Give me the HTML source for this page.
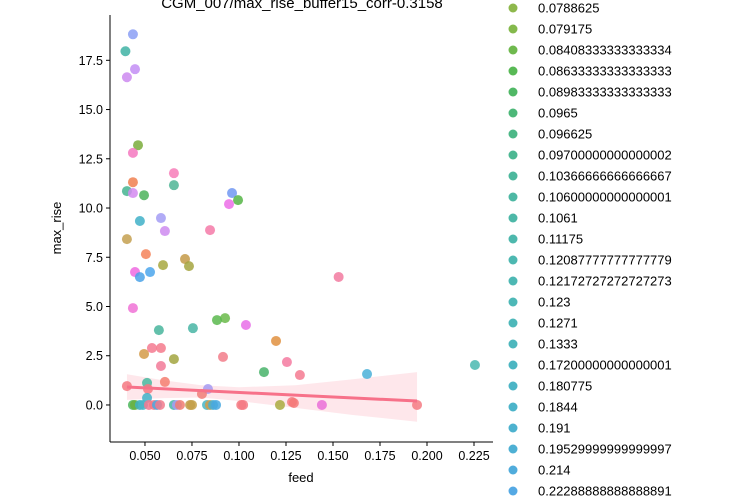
<!DOCTYPE html>
<html><head><meta charset="utf-8">
<style>
html,body{margin:0;padding:0;background:#fff;}
svg{display:block;font-family:"Liberation Sans","DejaVu Sans",sans-serif;}
</style></head>
<body>
<svg id="chart" width="729" height="500" viewBox="0 0 729 500">
<text x="302" y="8" text-anchor="middle" font-size="15" fill="#000">CGM_007/max_rise_buffer15_corr-0.3158</text>
<g id="band"></g>
<g id="points"></g>
<g id="reg"></g>
<g id="axes"></g>
<g id="legend"></g>
<text x="301" y="482" text-anchor="middle" font-size="13">feed</text>
<text x="61" y="228" text-anchor="middle" font-size="13" transform="rotate(-90 61 228)">max_rise</text>
</svg>
<script>
const feedVals=[0.0436,0.0396,0.0447,0.0404,0.0463,0.0436,0.0654,0.0436,0.0654,0.0404,0.0436,0.0495,0.0963,0.0995,0.0947,0.0473,0.0585,0.0606,0.0846,0.0404,
0.0505,0.0713,0.0596,0.0734,0.0447,0.0527,0.0473,0.0436,0.0926,0.0883,0.1037,0.0574,0.0755,0.1197,0.0495,0.0537,0.0585,0.0654,0.0915,0.1255,
0.1133,0.1324,0.0585,0.0606,0.0404,0.0511,0.0516,0.0511,0.0835,0.0803,0.1282,0.1292,0.1218,0.1530,0.1681,0.2255,0.1441,0.1947,
0.0436,0.0447,0.0473,0.0489,0.0521,0.0548,0.0564,0.0580,0.0654,0.0670,0.0686,0.0740,0.0750,0.0830,0.0846,0.0862,0.0878,0.1012,0.1022];
const riseVals=[18.82,17.96,17.05,16.64,13.19,12.8,11.77,11.31,11.16,10.86,10.76,10.65,10.76,10.4,10.2,9.34,9.49,8.83,8.88,8.42,
7.66,7.41,7.1,7.05,6.75,6.75,6.49,4.92,4.41,4.31,4.06,3.8,3.9,3.25,2.59,2.89,2.89,2.33,2.44,2.18,
1.67,1.52,1.98,1.17,0.96,1.12,0.81,0.36,0.81,0.56,0.15,0.1,0,6.5,1.57,2.03,0,0,
0,0,0,0,0,0,0,0,0,0,0,0,0,0,0,0,0,0,0];
const pointColors=["#8b9ff5","#3fb3a5","#c38ef5","#cc8af0","#7aab3a","#f478c0","#f77db8","#f08050","#4fb595","#45b490","#d389f0","#4cb35a","#7198f2","#55b545","#ec6de8","#40b0c8","#a39cf5","#ce8bf0","#f47aa8","#c4a050",
"#f4845a","#c49a48","#a7a840","#a5a540","#ee6ae0","#4ba6ec","#4aa2e8","#f072d6","#6aba4a","#5ab94e","#e76ee8","#48b59c","#48b5a5","#e09040","#d49a48","#f57a90","#f47a8c","#a2a540","#f27c8a","#f47aa0",
"#48b36a","#f47a90","#f27a98","#f47e70","#f47880","#48b8a0","#f47880","#40b2c8","#a59af2","#f07c78","#f47a80","#f47878","#aaaa40","#f27aa0","#4ab0d8","#4ab8b0","#ea6ed8","#f47a82",
"#4bb65a","#6ab040","#40b2c0","#48b4c8","#f47890","#f47a84","#4aa8e0","#f27a8c","#48b5a5","#a89af2","#f07c70","#c09a48","#c4a048","#48b5c5","#d49a48","#48b0d0","#48a8e0","#f47880","#f47a84"];
const legendLabels=["0.0788625","0.079175","0.08408333333333334","0.08633333333333333","0.08983333333333333","0.0965","0.096625","0.09700000000000002","0.10366666666666667","0.10600000000000001","0.1061","0.11175","0.12087777777777779","0.12172727272727273","0.123","0.1271","0.1333","0.17200000000000001","0.180775","0.1844","0.191","0.19529999999999997","0.214","0.22288888888888891"];
const legendColors=["#8eb84c","#84b94c","#6fb94e","#58b955","#50b866","#4db879","#4db887","#4db893","#4db89d","#4db8a4","#4db8a8","#4db8ad","#4db8b1","#4db8b4","#4db8b7","#4db8ba","#4db7bd","#4cb6c2","#4cb5c6","#4cb4ca","#4db2cf","#4eb0d4","#50acdc","#54a9e4"];
const yTicks=[0,2.5,5,7.5,10,12.5,15,17.5];
const yTickLabels=["0.0","2.5","5.0","7.5","10.0","12.5","15.0","17.5"];
const xTicks=[0.05,0.075,0.1,0.125,0.15,0.175,0.2,0.225];
const xTickLabels=["0.050","0.075","0.100","0.125","0.150","0.175","0.200","0.225"];
const regX=[0.0404,0.1947];
const regY=[0.91,0.2];
const bandX=[0.0404,0.06,0.08,0.1,0.13,0.16,0.1947];
const bandLo=[0.26,0.35,0.38,0.2,-0.15,-0.5,-0.85];
const bandHi=[1.56,1.25,1.0,0.9,1.0,1.3,1.67];

const X0=0.0314,X1=0.2351,PX0=110,PX1=493;
const Y0=-1.88,Y1=19.8,PY0=442,PY1=15;
const sx=v=>PX0+(v-X0)/(X1-X0)*(PX1-PX0);
const sy=v=>PY0-(v-Y0)/(Y1-Y0)*(PY0-PY1);
const NS="http://www.w3.org/2000/svg";
function mk(tag,attrs,parent){const e=document.createElementNS(NS,tag);for(const k in attrs)e.setAttribute(k,attrs[k]);parent.appendChild(e);return e;}

// band
let d="";
bandX.forEach((x,i)=>{d+=(i?"L":"M")+sx(x)+","+sy(bandHi[i]);});
for(let i=bandX.length-1;i>=0;i--)d+="L"+sx(bandX[i])+","+sy(bandLo[i]);
const bp=mk("path",{d:d+"Z",fill:"#f77189","fill-opacity":"0.17"},document.getElementById("band"));



// points
const pg=document.getElementById("points");
feedVals.forEach((x,i)=>{
 const c=mk("circle",{cx:sx(x),cy:sy(riseVals[i]),r:5,fill:pointColors[i%pointColors.length],"fill-opacity":"0.85"},pg);
 
 
});

// regression
const rl=mk("line",{x1:sx(regX[0]),y1:sy(regY[0]),x2:sx(regX[1]),y2:sy(regY[1]),stroke:"#f77189","stroke-width":3},document.getElementById("reg"));



// axes
const ag=document.getElementById("axes");
const yl=mk("line",{x1:PX0,y1:PY1,x2:PX0,y2:PY0,stroke:"#000","stroke-width":1},ag);


const xl=mk("line",{x1:PX0,y1:PY0,x2:PX1,y2:PY0,stroke:"#000","stroke-width":1},ag);


yTicks.forEach((v,i)=>{
 const y=sy(v);
 const t=mk("line",{x1:PX0-4,y1:y,x2:PX0,y2:y,stroke:"#000"},ag);
 
 
 const l=mk("text",{x:PX0-7,y:y+4.5,"text-anchor":"end","font-size":"12.5"},ag);
 l.textContent=yTickLabels[i];
 
 
});
xTicks.forEach((v,i)=>{
 const x=sx(v);
 const t=mk("line",{x1:x,y1:PY0,x2:x,y2:PY0+4,stroke:"#000"},ag);
 
 
 const l=mk("text",{x:x,y:PY0+18,"text-anchor":"middle","font-size":"12.5"},ag);
 l.textContent=xTickLabels[i];
 
 
});

// legend
const lg=document.getElementById("legend");
legendLabels.forEach((lab,i)=>{
 const y=8+i*21;
 const c=mk("circle",{cx:513,cy:y,r:4.5,fill:legendColors[i]},lg);
 
 
 const t=mk("text",{x:538,y:y+4.5,"font-size":"13"},lg);
 t.textContent=lab;
 
 
});
</script>
</body></html>
